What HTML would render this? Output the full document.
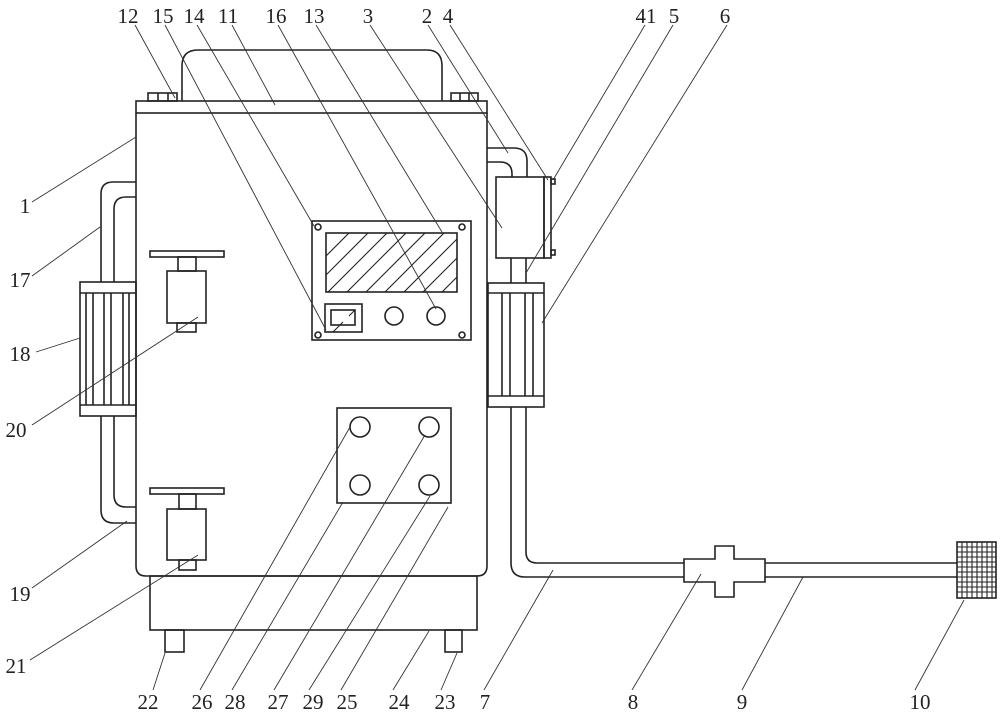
<!DOCTYPE html>
<html><head><meta charset="utf-8"><style>
html,body{margin:0;padding:0;background:#fff}
svg{display:block}
text{font-family:"Liberation Serif",serif;font-size:21px;fill:#222}
</style></head><body>
<svg width="1000" height="713" viewBox="0 0 1000 713" xmlns="http://www.w3.org/2000/svg">
<defs>
<clipPath id="scr"><rect x="326" y="233" width="131" height="59"/></clipPath>
<clipPath id="flt"><rect x="957" y="542" width="39" height="56"/></clipPath>
</defs>
<g fill="none" stroke="#222" stroke-width="1.6">
<path d="M182,101 V66 Q182,50 198,50 H427 Q442,50 442,66 V101"/>
<rect x="136" y="101" width="351" height="12"/>
<rect x="148" y="93" width="29" height="8"/><line x1="158" y1="93" x2="158" y2="101"/><line x1="168" y1="93" x2="168" y2="101"/>
<rect x="451" y="93" width="27" height="8"/><line x1="460" y1="93" x2="460" y2="101"/><line x1="469" y1="93" x2="469" y2="101"/>
<path d="M136,113 V566 Q136,576 146,576 H477 Q487,576 487,566 V113"/>
<rect x="150" y="576" width="327" height="54"/>
<rect x="165" y="630" width="19" height="22"/>
<rect x="445" y="630" width="17" height="22"/>
<path d="M136,182 H113 Q101,182 101,194 V282"/>
<path d="M136,197 H126 Q114,197 114,209 V282"/>
<path d="M101,416 V510 Q101,523 114,523 H136"/>
<path d="M114,416 V495 Q114,507 126,507 H136"/>
<rect x="80" y="282" width="56" height="134"/>
<line x1="80" y1="293" x2="136" y2="293"/><line x1="80" y1="405" x2="136" y2="405"/>
<line x1="86" y1="293" x2="86" y2="405"/><line x1="93" y1="293" x2="93" y2="405"/>
<line x1="104" y1="293" x2="104" y2="405"/><line x1="111" y1="293" x2="111" y2="405"/>
<line x1="123" y1="293" x2="123" y2="405"/><line x1="129" y1="293" x2="129" y2="405"/>
<rect x="150" y="251" width="74" height="6"/>
<rect x="178" y="257" width="18" height="14"/>
<rect x="167" y="271" width="39" height="52"/>
<rect x="177" y="323" width="19" height="9"/>
<rect x="150" y="488" width="74" height="6"/>
<rect x="179" y="494" width="17" height="15"/>
<rect x="167" y="509" width="39" height="51"/>
<rect x="179" y="560" width="17" height="10"/>
<rect x="312" y="221" width="159" height="119"/>
<rect x="326" y="233" width="131" height="59"/>
<circle cx="318" cy="227" r="3"/><circle cx="462" cy="227" r="3"/>
<circle cx="318" cy="335" r="3"/><circle cx="462" cy="335" r="3"/>
<rect x="325" y="304" width="37" height="28"/>
<rect x="331" y="310" width="24" height="15"/>
<circle cx="394" cy="316" r="9"/><circle cx="436" cy="316" r="9"/>
<rect x="337" y="408" width="114" height="95"/>
<circle cx="360" cy="427" r="10"/><circle cx="429" cy="427" r="10"/>
<circle cx="360" cy="485" r="10"/><circle cx="429" cy="485" r="10"/>
<path d="M487,148 H514 Q527,148 527,161 V177"/>
<path d="M487,162 H500 Q512,162 512,174 V177"/>
<rect x="496" y="177" width="48" height="81"/>
<rect x="544" y="177" width="7" height="81"/>
<rect x="551" y="179" width="4" height="5"/><rect x="551" y="250" width="4" height="5"/>
<line x1="511" y1="258" x2="511" y2="283"/><line x1="526" y1="258" x2="526" y2="283"/>
<rect x="488" y="283" width="56" height="124"/>
<line x1="488" y1="293" x2="544" y2="293"/><line x1="488" y1="396" x2="544" y2="396"/>
<line x1="502" y1="293" x2="502" y2="396"/><line x1="510" y1="293" x2="510" y2="396"/>
<line x1="525" y1="293" x2="525" y2="396"/><line x1="533" y1="293" x2="533" y2="396"/>
<path d="M511,407 V563 Q511,577 525,577 H684"/>
<path d="M526,407 V552 Q526,563 537,563 H684"/>
<path d="M684,559 H715 V546 H734 V559 H765 V582 H734 V597 H715 V582 H684 Z"/>
<line x1="765" y1="563" x2="957" y2="563"/><line x1="765" y1="577" x2="957" y2="577"/>
<rect x="957" y="542" width="39" height="56"/>
</g>
<g stroke="#222" stroke-width="1.1" fill="none">
<g clip-path="url(#scr)">
<path d="M300,320 L400,220 M319,320 L419,220 M338,320 L438,220 M357,320 L457,220 M376,320 L476,220 M395,320 L495,220 M414,320 L514,220 M433,320 L533,220 M452,320 L552,220 M281,320 L381,220 M262,320 L362,220"/>
</g>
<path d="M333,332 L343,322 M349,316 L355,310" />
<g clip-path="url(#flt)">
<path d="M962,542V598M967,542V598M972,542V598M977,542V598M982,542V598M987,542V598M992,542V598
M957,547H996M957,552H996M957,557H996M957,562H996M957,567H996M957,572H996M957,577H996M957,582H996M957,587H996M957,592H996"/>
</g>
</g>
<g stroke="#333" stroke-width="0.9" fill="none">
<line x1="135" y1="25" x2="175" y2="98"/>
<line x1="165" y1="25" x2="326" y2="330"/>
<line x1="197" y1="25" x2="314" y2="226"/>
<line x1="232" y1="25" x2="275" y2="105"/>
<line x1="278" y1="25" x2="436" y2="309"/>
<line x1="316" y1="25" x2="442" y2="232"/>
<line x1="370" y1="25" x2="502" y2="228"/>
<line x1="428" y1="25" x2="508" y2="153"/>
<line x1="450" y1="25" x2="548" y2="180"/>
<line x1="645" y1="25" x2="553" y2="180"/>
<line x1="673" y1="25" x2="526" y2="273"/>
<line x1="727" y1="25" x2="542" y2="323"/>
<line x1="32" y1="202" x2="136" y2="137"/>
<line x1="32" y1="276" x2="100" y2="227"/>
<line x1="36" y1="352" x2="80" y2="338"/>
<line x1="32" y1="425" x2="198" y2="317"/>
<line x1="32" y1="588" x2="127" y2="521"/>
<line x1="30" y1="660" x2="198" y2="555"/>
<line x1="153" y1="690" x2="165" y2="653"/>
<line x1="200" y1="690" x2="350" y2="427"/>
<line x1="232" y1="690" x2="343" y2="502"/>
<line x1="274" y1="690" x2="425" y2="435"/>
<line x1="309" y1="690" x2="430" y2="496"/>
<line x1="341" y1="690" x2="448" y2="507"/>
<line x1="393" y1="690" x2="429" y2="631"/>
<line x1="441" y1="690" x2="457" y2="653"/>
<line x1="484" y1="690" x2="553" y2="570"/>
<line x1="632" y1="690" x2="701" y2="574"/>
<line x1="742" y1="690" x2="803" y2="577"/>
<line x1="915" y1="690" x2="964" y2="600"/>
</g>
<g text-anchor="middle">
<text x="128" y="23">12</text><text x="163" y="23">15</text><text x="194" y="23">14</text>
<text x="228" y="23">11</text><text x="276" y="23">16</text><text x="314" y="23">13</text>
<text x="368" y="23">3</text><text x="427" y="23">2</text><text x="448" y="23">4</text>
<text x="646" y="23">41</text><text x="674" y="23">5</text><text x="725" y="23">6</text>
<text x="25" y="213">1</text><text x="20" y="287">17</text><text x="20" y="361">18</text>
<text x="16" y="437">20</text><text x="20" y="601">19</text><text x="16" y="673">21</text>
<text x="148" y="709">22</text><text x="202" y="709">26</text><text x="235" y="709">28</text>
<text x="278" y="709">27</text><text x="313" y="709">29</text><text x="347" y="709">25</text>
<text x="399" y="709">24</text><text x="445" y="709">23</text><text x="485" y="709">7</text>
<text x="633" y="709">8</text><text x="742" y="709">9</text><text x="920" y="709">10</text>
</g>
</svg>
</body></html>
